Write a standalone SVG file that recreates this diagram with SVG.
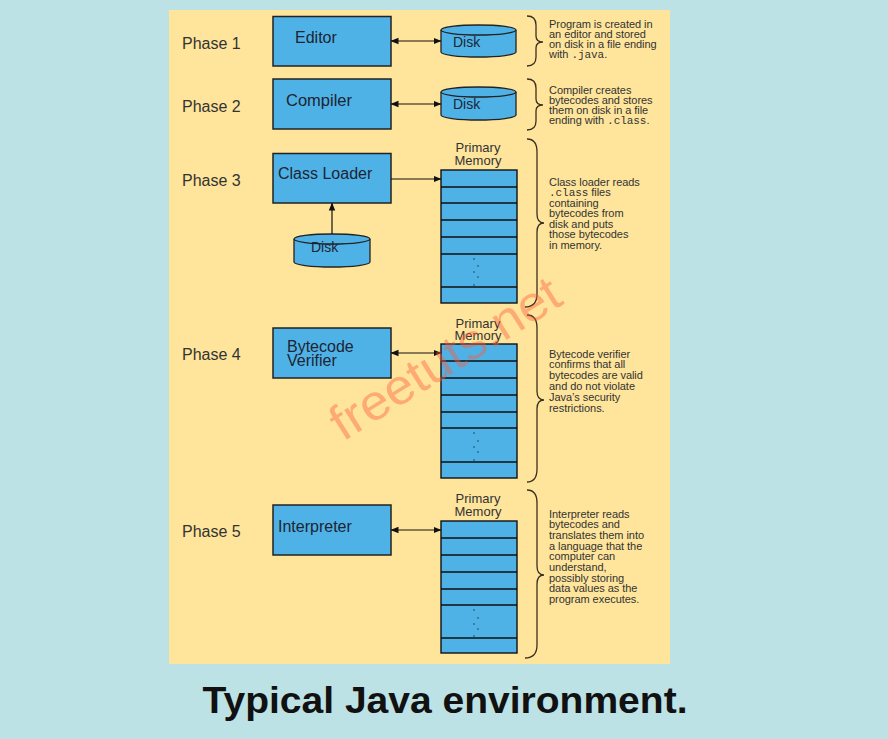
<svg xmlns="http://www.w3.org/2000/svg" width="888" height="739" viewBox="0 0 888 739">
<defs>
<marker id="ah" viewBox="0 0 8 8" refX="7.5" refY="4" markerWidth="8" markerHeight="8" markerUnits="userSpaceOnUse" orient="auto-start-reverse">
<path d="M0,0.8 L8,4 L0,7.2 Z" fill="#111"/>
</marker>
</defs>
<style>
.box{fill:#4fb2e6;stroke:#222;stroke-width:1.5}
.disk{fill:#4fb2e6;stroke:#222;stroke-width:1.3}
.mem{fill:#4fb2e6;stroke:#111;stroke-width:1.4}
.row{stroke:#111;stroke-width:1.3}
.lbl{font-family:"Liberation Sans",Arial,sans-serif;font-size:16px;fill:#1d2433}
.phase{font-family:"Liberation Sans",Arial,sans-serif;font-size:16px;fill:#333}
.dtxt{font-family:"Liberation Sans",Arial,sans-serif;font-size:14px;fill:#1d2433}
.pm{font-family:"Liberation Sans",Arial,sans-serif;font-size:13px;fill:#333;text-anchor:middle}
.note{font-family:"Liberation Sans",Arial,sans-serif;font-size:11px;fill:#333;letter-spacing:-0.05px}
.mono{font-family:"Liberation Mono","Courier New",monospace;font-size:11px}
.brace{fill:none;stroke:#3a3020;stroke-width:1.3}
.conn{stroke:#111;stroke-width:1.2;fill:none}
.dot{fill:#1d2433}
</style>
<rect width="888" height="739" fill="#bde2e6"/>
<rect x="169" y="10" width="501" height="654" fill="#fee59b"/>

<g id="phases">
<text class="phase" x="182" y="48.5">Phase 1</text>
<text class="phase" x="182" y="112">Phase 2</text>
<text class="phase" x="182" y="185.5">Phase 3</text>
<text class="phase" x="182" y="359.5">Phase 4</text>
<text class="phase" x="182" y="536.5">Phase 5</text>
</g>

<g id="editor"><rect class="box" x="273" y="16.5" width="118" height="49.5"/><text class="lbl" x="295" y="43">Editor</text></g>
<g id="compiler"><rect class="box" x="273" y="79" width="118" height="50"/><text class="lbl" x="286" y="106" style="font-size:16.5px">Compiler</text></g>
<g id="classloader"><rect class="box" x="273" y="153.5" width="118" height="49.5"/><text class="lbl" x="278" y="179">Class Loader</text></g>
<g id="verifier"><rect class="box" x="273" y="328" width="118" height="50"/><text class="lbl" x="287" y="352">Bytecode</text><text class="lbl" x="287" y="366">Verifier</text></g>
<g id="interpreter"><rect class="box" x="273" y="505" width="118" height="50"/><text class="lbl" x="278" y="532">Interpreter</text></g>

<g id="disk1">
<path class="disk" d="M441,30 L441,52 A37.5,5 0 0 0 516,52 L516,30"/>
<ellipse class="disk" cx="478.5" cy="30" rx="37.5" ry="5"/>
<text class="dtxt" x="453" y="47">Disk</text>
</g>
<g id="disk2">
<path class="disk" d="M441,92 L441,115 A37.5,5 0 0 0 516,115 L516,92"/>
<ellipse class="disk" cx="478.5" cy="92" rx="37.5" ry="5"/>
<text class="dtxt" x="453" y="109">Disk</text>
</g>
<g id="disk3">
<path class="disk" d="M294,239 L294,262 A38,5 0 0 0 370,262 L370,239"/>
<ellipse class="disk" cx="332" cy="239" rx="38" ry="5"/>
<text class="dtxt" x="311" y="252">Disk</text>
</g>

<g id="memory1">
<text class="pm" x="478" y="152">Primary</text><text class="pm" x="478" y="164.5">Memory</text>
<rect class="mem" x="441" y="170" width="76" height="133"/>
<path class="row" d="M441,187H517M441,203H517M441,220H517M441,237H517M441,254H517M441,287H517"/>
<circle class="dot" cx="474" cy="259" r="0.7"/><circle class="dot" cx="478" cy="266" r="0.7"/><circle class="dot" cx="474" cy="272" r="0.7"/><circle class="dot" cx="478" cy="277" r="0.7"/><circle class="dot" cx="474" cy="285" r="0.7"/>
</g>
<g id="memory2">
<text class="pm" x="478" y="327.5">Primary</text><text class="pm" x="478" y="340">Memory</text>
<rect class="mem" x="441" y="344" width="76" height="134"/>
<path class="row" d="M441,361H517M441,378H517M441,395H517M441,412H517M441,428H517M441,462H517"/>
<circle class="dot" cx="474" cy="433" r="0.7"/><circle class="dot" cx="478" cy="441" r="0.7"/><circle class="dot" cx="474" cy="447" r="0.7"/><circle class="dot" cx="478" cy="452" r="0.7"/><circle class="dot" cx="474" cy="460" r="0.7"/>
</g>
<g id="memory3">
<text class="pm" x="478" y="502.5">Primary</text><text class="pm" x="478" y="515.5">Memory</text>
<rect class="mem" x="441" y="521" width="76" height="132"/>
<path class="row" d="M441,538H517M441,555H517M441,572H517M441,589H517M441,605H517M441,638H517"/>
<circle class="dot" cx="474" cy="610" r="0.7"/><circle class="dot" cx="478" cy="618" r="0.7"/><circle class="dot" cx="474" cy="624" r="0.7"/><circle class="dot" cx="478" cy="629" r="0.7"/><circle class="dot" cx="474" cy="636" r="0.7"/>
</g>

<g id="connectors">
<line class="conn" x1="391" y1="41" x2="441" y2="41" marker-start="url(#ah)" marker-end="url(#ah)"/>
<line class="conn" x1="391" y1="104" x2="441" y2="104" marker-start="url(#ah)" marker-end="url(#ah)"/>
<line class="conn" x1="391" y1="179" x2="441" y2="179" marker-end="url(#ah)"/>
<line class="conn" x1="332" y1="234" x2="332" y2="203" marker-end="url(#ah)"/>
<line class="conn" x1="391" y1="353" x2="441" y2="353" marker-start="url(#ah)" marker-end="url(#ah)"/>
<line class="conn" x1="391" y1="530" x2="441" y2="530" marker-start="url(#ah)" marker-end="url(#ah)"/>
</g>

<g id="braces">
<path class="brace" d="M527,16 Q536,16 536,25 L536,36 Q536,42 543,42 Q536,42 536,48 L536,57 Q536,66 527,66"/>
<path class="brace" d="M527,79 Q536,79 536,88 L536,99 Q536,105 543,105 Q536,105 536,111 L536,121 Q536,130 527,130"/>
<path class="brace" d="M527,139 Q537,139 537,152 L537,214 Q537,223 544,223 Q537,223 537,232 L537,294 Q537,307 525,307"/>
<path class="brace" d="M527,315 Q537,315 537,328 L537,391 Q537,400 544,400 Q537,400 537,409 L537,469 Q537,482 527,482"/>
<path class="brace" d="M527,490 Q537,490 537,503 L537,566 Q537,575 544,575 Q537,575 537,584 L537,645 Q537,658 525,658"/>
</g>

<g id="notes">
<text class="note" x="549" y="27.5">Program is created in<tspan x="549" dy="10.3">an editor and stored</tspan><tspan x="549" dy="10.3">on disk in a file ending</tspan><tspan x="549" dy="10.3">with <tspan class="mono">.java</tspan>.</tspan></text>
<text class="note" x="549" y="93.5">Compiler creates<tspan x="549" dy="10">bytecodes and stores</tspan><tspan x="549" dy="10">them on disk in a file</tspan><tspan x="549" dy="10">ending with <tspan class="mono">.class</tspan>.</tspan></text>
<text class="note" x="549" y="185.5">Class loader reads<tspan x="549" dy="10.5" class="mono">.class</tspan><tspan> files</tspan><tspan x="549" dy="10.5">containing</tspan><tspan x="549" dy="10.5">bytecodes from</tspan><tspan x="549" dy="10.5">disk and puts</tspan><tspan x="549" dy="10.5">those bytecodes</tspan><tspan x="549" dy="10.5">in memory.</tspan></text>
<text class="note" x="549" y="357.5">Bytecode verifier<tspan x="549" dy="10.8">confirms that all</tspan><tspan x="549" dy="10.8">bytecodes are valid</tspan><tspan x="549" dy="10.8">and do not violate</tspan><tspan x="549" dy="10.8">Java’s security</tspan><tspan x="549" dy="10.8">restrictions.</tspan></text>
<text class="note" x="549" y="517.5">Interpreter reads<tspan x="549" dy="10.7">bytecodes and</tspan><tspan x="549" dy="10.7">translates them into</tspan><tspan x="549" dy="10.7">a language that the</tspan><tspan x="549" dy="10.7">computer can</tspan><tspan x="549" dy="10.7">understand,</tspan><tspan x="549" dy="10.7">possibly storing</tspan><tspan x="549" dy="10.7">data values as the</tspan><tspan x="549" dy="10.7">program executes.</tspan></text>
</g>

<text x="343" y="442" transform="rotate(-32 343 442)" textLength="262" lengthAdjust="spacingAndGlyphs" style="font-family:'Liberation Sans',Arial,sans-serif;font-size:50px;fill:#ff5a3c;fill-opacity:0.42">freetuts.net</text>

<text x="445" y="713" text-anchor="middle" textLength="485" lengthAdjust="spacingAndGlyphs" style="font-family:'Liberation Sans',Arial,sans-serif;font-size:36px;font-weight:bold;fill:#111">Typical Java environment.</text>
</svg>
